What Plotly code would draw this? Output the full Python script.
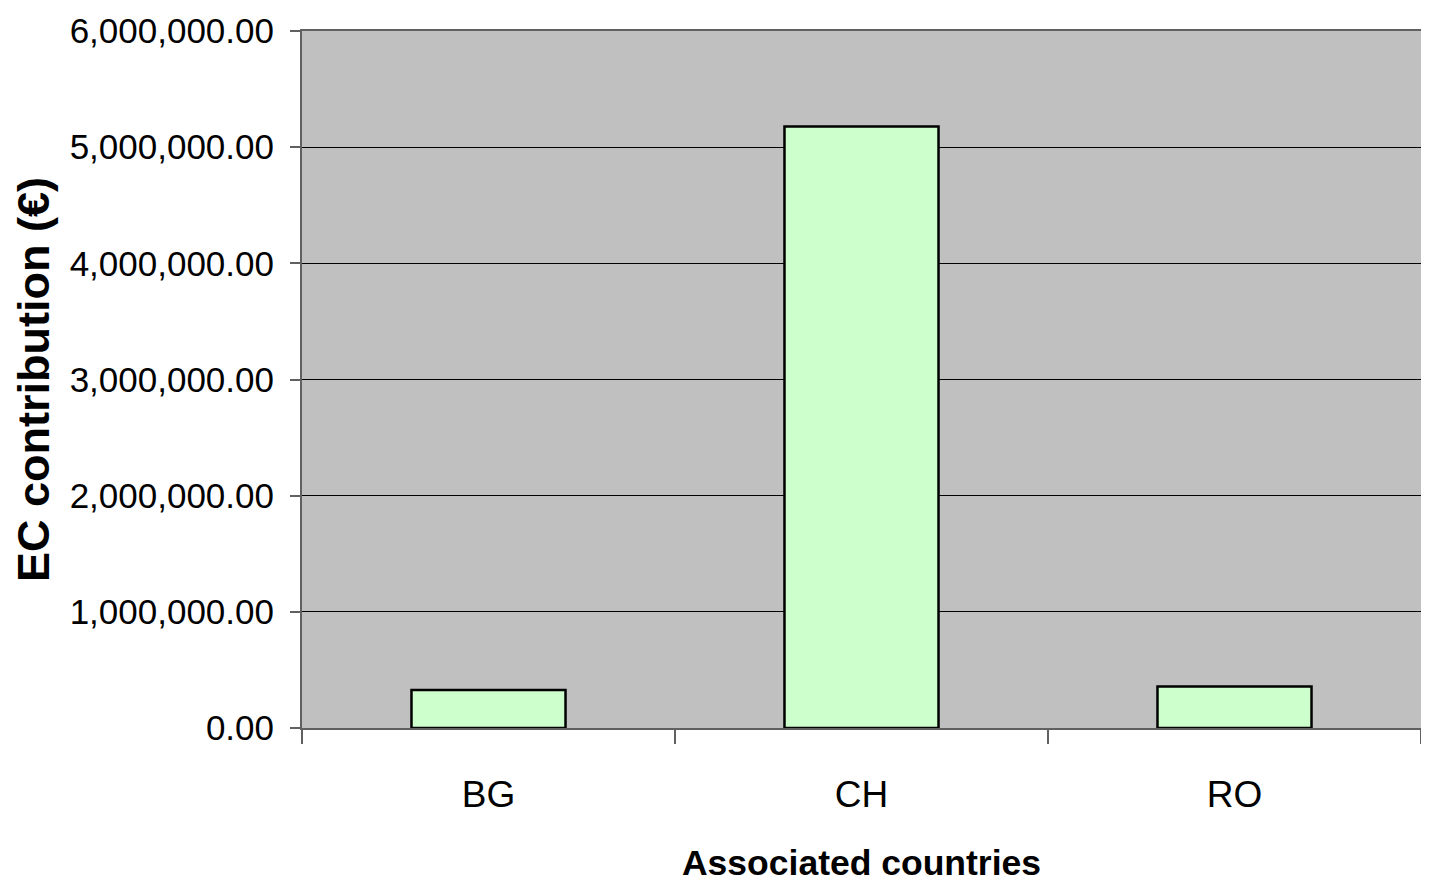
import plotly.graph_objects as go

countries = ["BG", "CH", "RO"]
ec_contribution = [327000, 5177000, 358000]
y_tick_values = [0, 1000000, 2000000, 3000000, 4000000, 5000000, 6000000]

sans = "Liberation Sans, Arial, sans-serif"

fig = go.Figure(
    go.Bar(
        x=countries,
        y=ec_contribution,
        marker=dict(color="#CCFFCC", line=dict(color="black", width=2.5)),
    )
)

fig.update_layout(
    width=1413,
    height=892,
    margin=dict(l=294, r=0, t=23, b=172),
    paper_bgcolor="white",
    plot_bgcolor="#C0C0C0",
    bargap=0.587,
    showlegend=False,
    font=dict(family=sans, color="black", size=35),
)

fig.update_xaxes(
    automargin=False,
    showgrid=False,
    showline=True,
    linecolor="#606060",
    linewidth=2,
    mirror=True,
    ticks="outside",
    tickson="boundaries",
    ticklen=14,
    tickcolor="#606060",
    tickwidth=1.5,
    ticklabelstandoff=33,
    tickfont=dict(family=sans, size=37),
    title=dict(
        text="<b>Associated countries</b>",
        font=dict(family=sans, size=35.5),
        standoff=36,
    ),
)

fig.update_yaxes(
    automargin=False,
    range=[0, 6000000],
    tickvals=y_tick_values,
    tickformat=",.2f",
    showgrid=True,
    gridcolor="black",
    gridwidth=1,
    showline=True,
    linecolor="#606060",
    linewidth=2,
    mirror=True,
    ticks="outside",
    ticklen=10,
    tickcolor="#606060",
    tickwidth=1.5,
    ticklabelstandoff=9,
    tickfont=dict(family=sans, size=35),
    zeroline=False,
    title=dict(
        text="<b>EC contribution (€)</b>",
        font=dict(family=sans, size=45),
        standoff=23,
    ),
)

fig.write_html("out.html")
